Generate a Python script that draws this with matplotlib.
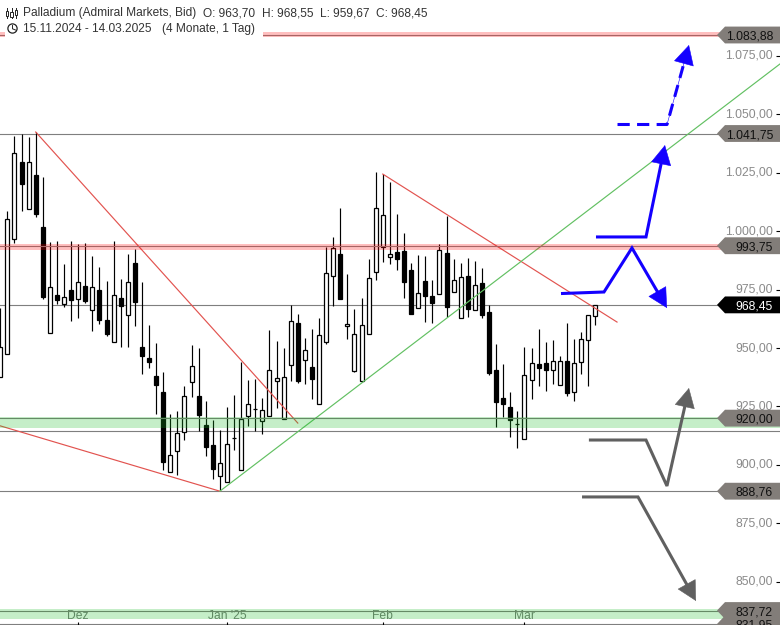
import math
import matplotlib
matplotlib.use('Agg')
import matplotlib.pyplot as plt
from matplotlib.patches import Polygon, Rectangle, Circle

plt.rcParams['font.family'] = ['Liberation Sans', 'DejaVu Sans']

# Kerzen (Palladium, Tageskerzen)
opens = [937.74, 947.29, 996.48, 1029.41, 1009.31, 1023.85, 1001.61, 956.28, 972.53, 968.68,
         974.67, 970.82, 976.38, 966.11, 974.67, 961.84, 952.43, 971.25, 963.97, 986.21,
         950.29, 945.58, 937.88, 931.04, 896.82, 905.81, 913.93, 935.32, 929.33, 916.92,
         908.37, 895.11, 892.54, 911.36, 897.68, 921.06, 923.77, 918.64, 921.06, 935.74,
         919.49, 942.59, 960.55, 944.73, 941.73, 925.91, 952.42, 980.65, 990.06, 959.27,
         940.02, 935.74, 955.85, 982.36, 993.06, 988.78, 990.92, 991.49, 983.22, 966.96,
         978.51, 972.10, 972.95, 990.49, 973.81, 962.69, 980.65, 966.11, 977.66, 965.25,
         940.45, 928.47, 924.62, 917.35, 910.93, 936.17, 943.01, 943.44, 940.45, 934.03,
         944.30, 931.04, 943.87, 953.28, 963.70]
highs = [967.25, 1008.74, 1040.68, 1041.53, 1040.11, 1042.39, 1023.00, 995.34, 995.62, 985.93,
         995.62, 994.48, 994.77, 989.35, 984.65, 978.66, 995.62, 979.37, 990.06, 992.20,
         978.23, 959.84, 952.14, 939.59, 921.77, 923.06, 933.75, 951.29, 949.86, 927.33,
         919.21, 914.93, 924.77, 929.90, 944.01, 936.31, 936.74, 928.61, 957.70, 952.99,
         950.00, 968.25, 964.54, 954.28, 958.13, 962.83, 993.06, 997.48, 1009.88, 981.65,
         966.68, 971.39, 988.07, 1025.28, 1024.42, 1021.00, 1007.31, 999.19, 986.35, 989.78,
         989.35, 979.08, 994.48, 1006.46, 988.07, 986.35, 988.49, 987.21, 984.22, 968.25,
         951.71, 943.16, 931.18, 923.05, 950.43, 949.86, 958.13, 952.42, 953.42, 946.43,
         960.69, 953.85, 956.84, 963.97, 968.55]
lows = [937.74, 947.29, 994.77, 1008.74, 1009.31, 1006.17, 971.10, 956.28, 968.82, 967.68,
        961.69, 962.83, 969.39, 957.42, 960.41, 955.28, 952.43, 950.57, 950.57, 959.55,
        939.02, 941.59, 921.92, 897.82, 896.82, 895.83, 910.51, 929.19, 914.64, 903.95,
        893.83, 889.27, 892.54, 906.52, 897.68, 916.78, 914.64, 913.36, 921.06, 924.48,
        919.49, 935.74, 935.17, 934.75, 928.19, 925.91, 951.57, 968.11, 971.10, 953.99,
        939.59, 935.32, 955.85, 979.23, 986.64, 986.07, 983.22, 971.53, 964.40, 966.96,
        961.26, 960.83, 972.95, 963.40, 973.81, 962.69, 963.40, 966.11, 962.97, 938.31,
        916.35, 920.63, 912.08, 907.09, 910.93, 928.33, 933.89, 931.75, 934.74, 934.03,
        929.61, 927.47, 939.02, 933.89, 959.67]
closes = [950.57, 1005.03, 1033.26, 1020.00, 1029.41, 1007.46, 971.96, 975.95, 970.67, 971.67,
          970.67, 978.09, 970.10, 975.95, 962.12, 956.13, 972.53, 968.11, 978.09, 969.82,
          946.72, 944.16, 934.32, 901.39, 904.09, 913.50, 929.33, 942.45, 921.49, 907.80,
          898.39, 900.96, 908.80, 911.36, 919.49, 925.91, 923.77, 923.34, 940.45, 937.03,
          937.45, 961.41, 936.03, 949.00, 936.88, 955.42, 981.94, 992.63, 971.10, 960.12,
          955.85, 959.70, 979.80, 1009.74, 1006.74, 990.06, 987.92, 978.37, 964.40, 973.38,
          972.10, 969.10, 991.77, 967.68, 978.94, 980.22, 966.54, 976.80, 964.26, 939.45,
          926.76, 925.90, 919.06, 917.35, 938.31, 943.44, 941.30, 940.45, 944.30, 944.30,
          930.89, 943.44, 953.71, 963.97, 968.45]

# Preisachse und Zeitachse
price_ticks = [850, 875, 900, 925, 950, 975, 1000, 1025, 1050, 1075]
month_pos = [11, 32, 54, 74]
month_labels = ['Dez', 'Jan \'25', 'Feb', 'Mar']

# Horizontale Marken
grey_levels = [1041.75, 888.76, 914.4, 831.95]
red_bands = [(1083.88, 1085.2, 1083.0), (993.75, 994.3, 992.1)]
green_bands = [(920.00, 920.3, 915.7), (837.72, 838.3, 834.1)]
tag_levels = [831.95, 837.72, 888.76, 920.00, 993.75, 1041.75, 1083.88]
last_price = 968.45

# Trendlinien (Kerzenindex, Preis)
red_lines = [([5, 42], [1042.39, 917.9]),
             ([0, 31], [916.7, 888.76]),
             ([54, 87.07], [1024.4, 961.1])]
green_line_x = [31, 110.08]
green_line_y = [888.76, 1071.5]

# Szenario-Pfeile
blue_dash_x = [87.14, 94.13, 97.23]
blue_dash_y = [1045.6, 1045.6, 1079.6]
blue_up_x = [84.1, 91.16, 93.84]
blue_up_y = [997.5, 997.5, 1036.8]
blue_down_x = [79.16, 85.23, 89.18, 94.12]
blue_down_y = [973.3, 973.96, 992.8, 967.1]
grey_up_x = [83.1, 91.16, 94.12, 97.23]
grey_up_y = [910.65, 910.65, 891.0, 932.9]
grey_down_x = [82.13, 90.03, 98.22]
grey_down_y = [886.3, 886.3, 841.8]

BLUE = '#1400ff'
GREY = '#606060'
HEAD_PX = 12


def de_num(v):
    return f'{v:,.2f}'.replace(',', 'X').replace('.', ',').replace('X', '.')


def arrow_path(ax, xs, ys, color, dashed=False):
    # Schaft endet unter der Spitze, die Spitze selbst bleibt durchgezogen
    p0 = ax.transData.transform((xs[-2], ys[-2]))
    p1 = ax.transData.transform((xs[-1], ys[-1]))
    frac = 1 - HEAD_PX / math.hypot(p1[0] - p0[0], p1[1] - p0[1])
    sx = xs[:-1] + [xs[-2] + frac * (xs[-1] - xs[-2])]
    sy = ys[:-1] + [ys[-2] + frac * (ys[-1] - ys[-2])]
    ls = (0, (4.0, 2.4)) if dashed else '-'
    ax.plot(sx, sy, color=color, lw=2.2, ls=ls, zorder=7,
            solid_joinstyle='miter', dash_capstyle='butt', solid_capstyle='butt')
    ax.annotate('', xy=(xs[-1], ys[-1]), xytext=(xs[-2], ys[-2]), zorder=7,
                arrowprops=dict(arrowstyle='-|>,head_length=0.95,head_width=0.5',
                                facecolor=color, edgecolor=color, lw=0.4, shrinkA=0,
                                shrinkB=0, mutation_scale=14))


fig = plt.figure(figsize=(7.8, 6.25), dpi=100)
ax = fig.add_axes([0, 0, 1, 1])
ax.set_xlim(-0.042, 110.08)
ax.set_ylim(831.53, 1098.85)
for s in ax.spines.values():
    s.set_visible(False)

# Linien unter den Kerzen
for lv in grey_levels + [last_price]:
    ax.axhline(lv, color='#7f7f7f', lw=0.8, zorder=1)
for xs, ys in red_lines:
    ax.plot(xs, ys, color='#e2534f', lw=0.85, zorder=4)
ax.plot(green_line_x, green_line_y, color='#62c062', lw=0.85, zorder=4)

# Kerzen
idx = list(range(len(opens)))
ax.vlines(idx, lows, highs, color='black', lw=0.85, zorder=2)
for i in idx:
    up = closes[i] >= opens[i]
    ax.bar(i, abs(closes[i] - opens[i]), bottom=min(opens[i], closes[i]), width=0.56,
           facecolor='white' if up else 'black', edgecolor='black', lw=0.9, zorder=3)

# Zonen liegen halbtransparent ueber den Kerzen
for lv, hi, lo in red_bands:
    ax.axhspan(lo, hi, color='#ff0000', alpha=0.25, lw=0, zorder=4)
    ax.axhline(lv, color='#a86464', lw=0.8, zorder=4)
for lv, hi, lo in green_bands:
    ax.axhspan(lo, hi, color='#19bf26', alpha=0.25, lw=0, zorder=4)
    ax.axhline(lv, color='#668a66', lw=0.8, zorder=4)

arrow_path(ax, blue_dash_x, blue_dash_y, BLUE, dashed=True)
arrow_path(ax, blue_up_x, blue_up_y, BLUE)
arrow_path(ax, blue_down_x, blue_down_y, BLUE)
arrow_path(ax, grey_up_x, grey_up_y, GREY)
arrow_path(ax, grey_down_x, grey_down_y, GREY)

# Achsen
ax.set_yticks(price_ticks)
ax.set_yticklabels([de_num(p) for p in price_ticks], ha='right', va='center',
                   color='#8a8a8a', fontsize=8.7)
ax.yaxis.tick_right()
ax.tick_params(axis='y', direction='in', length=3, width=0.8, pad=-5, color='black')
ax.set_xticks(month_pos)
ax.set_xticklabels(month_labels, color='#787878', fontsize=8.7, zorder=6)
ax.tick_params(axis='x', direction='in', length=2, width=0.8, pad=-11, color='black')

# Preisschilder am rechten Rand
ytrans = ax.get_yaxis_transform()
half = 3.6


def tag(level, face, text_color):
    pts = [(717 / 780, level), (725 / 780, level + half), (1, level + half),
           (1, level - half), (725 / 780, level - half)]
    ax.add_patch(Polygon(pts, closed=True, transform=ytrans, facecolor=face,
                         edgecolor='none', zorder=8, clip_on=True))
    ax.text(773 / 780, level, de_num(level), transform=ytrans, ha='right',
            va='center_baseline', color=text_color, fontsize=8.7, zorder=9, clip_on=True)


for lv in tag_levels:
    tag(lv, '#827d79', '#111111')
tag(last_price, 'black', 'white')

# Kopfzeile in Pixelkoordinaten
ui = fig.add_axes([0, 0, 1, 1], facecolor='none')
ui.set_xlim(0, 780)
ui.set_ylim(625, 0)
ui.axis('off')
ui.add_patch(Rectangle((5, 20), 258, 17, facecolor='white', edgecolor='none'))

TXT = '#333333'
head_x = [23, 203, 262, 320, 376]
head_txt = ['Palladium (Admiral Markets, Bid)', 'O: 963,70', 'H: 968,55', 'L: 959,67', 'C: 968,45']
for x, t in zip(head_x, head_txt):
    ui.text(x, 13, t, color=TXT, fontsize=8.55, va='center', ha='left')
ui.text(23, 29, '15.11.2024 - 14.03.2025', color=TXT, fontsize=8.55, va='center', ha='left')
ui.text(162, 29, '(4 Monate, 1 Tag)', color=TXT, fontsize=8.55, va='center', ha='left')

# kleines Kerzen-Symbol und Uhr
for x, y0, y1, b0, b1 in [(7, 8, 18, 11, 16), (11.5, 8, 18, 12, 17), (16, 8, 18, 10, 15)]:
    ui.plot([x, x], [y0, y1], color='#222222', lw=0.7)
    ui.add_patch(Rectangle((x - 1.2, b0), 2.4, b1 - b0, facecolor='white',
                           edgecolor='#222222', lw=0.7, zorder=3))
ui.add_patch(Circle((12.5, 28.5), 4.6, facecolor='white', edgecolor='#222222', lw=0.9))
ui.plot([12.5, 12.5, 15.5], [25.5, 28.8, 30], color='#222222', lw=0.7)

plt.savefig('out.png', dpi=100)
